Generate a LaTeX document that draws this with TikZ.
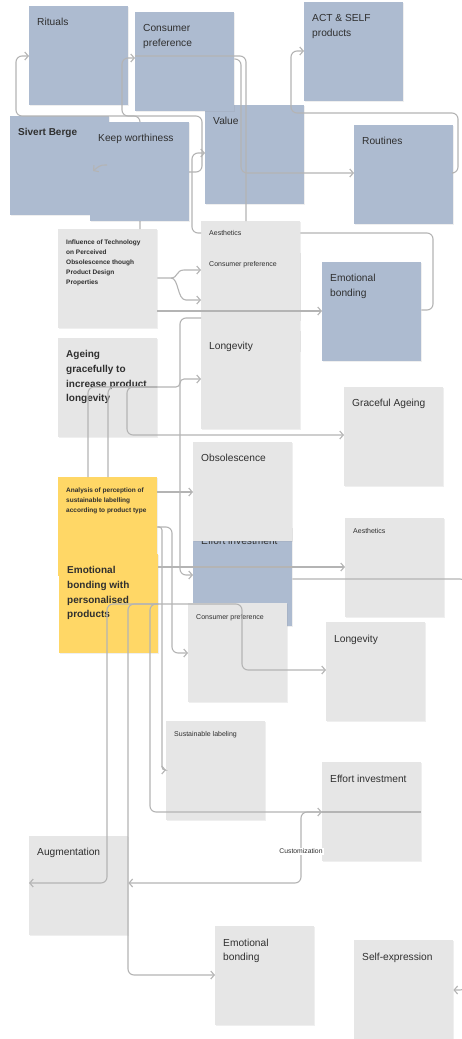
\documentclass[tikz,border=0pt]{standalone}
\usepackage{fontspec}
\setmainfont{Liberation Sans}
\usetikzlibrary{arrows.meta,shadows}

\definecolor{cardblue}{HTML}{ADBBD0}
\definecolor{cardgray}{HTML}{E6E6E6}
\definecolor{cardyellow}{HTML}{FFD766}
\definecolor{wirecol}{HTML}{B4B4B4}
\definecolor{ink}{HTML}{2F2F2F}

\tikzset{
  card/.style={rectangle, anchor=north west, minimum width=99pt, minimum height=99pt,
    inner sep=0pt, draw=none,
    drop shadow={shadow xshift=0.4pt, shadow yshift=-0.9pt, opacity=0.12}},
  bluecard/.style={card, fill=cardblue},
  graycard/.style={card, fill=cardgray},
  yellowcard/.style={card, fill=cardyellow},
  cardtext/.style={anchor=north west, inner sep=0pt, align=left, text=ink,
    font=\fontsize{10.2}{14.7}\selectfont},
  boldtext/.style={cardtext, font=\bfseries\fontsize{10}{14.7}\selectfont},
  smalltext/.style={cardtext, font=\fontsize{7}{10}\selectfont},
  smallbold/.style={cardtext, font=\bfseries\fontsize{6.5}{10}\selectfont},
  wire/.style={draw=wirecol, line width=1.1pt, rounded corners=6pt},
  arrowed/.style={-{Straight Barb[length=3.5pt,width=8pt]}},
  edgelabel/.style={fill=white, inner sep=1pt, text=ink,
    font=\fontsize{6.8}{8}\selectfont},
}

\begin{document}
\begin{tikzpicture}[x=1pt, y=-1pt]
\useasboundingbox (0,0) rectangle (461,1039);
\fill[white] (0,0) rectangle (461,1039);

% ---------- cards ----------
\node[bluecard] (rit) at (29,6) {};
\node[cardtext] (ritT) at ([shift={(8pt,-12.4pt)}]rit.north west) {Rituals};

\node[bluecard] (act) at (304,2) {};
\node[cardtext] (actT) at ([shift={(8pt,-12.4pt)}]act.north west) {ACT \& SELF\\products};

\node[bluecard] (val) at (205,105) {};
\node[cardtext] (valT) at ([shift={(8pt,-12.4pt)}]val.north west) {Value};

\node[bluecard] (cpb) at (135,12) {};
\node[cardtext] (cpbT) at ([shift={(8pt,-12.4pt)}]cpb.north west) {Consumer\\preference};

\node[bluecard] (rou) at (354,125) {};
\node[cardtext] (rouT) at ([shift={(8pt,-12.4pt)}]rou.north west) {Routines};

\node[bluecard] (siv) at (10,116) {};
\node[boldtext] (sivT) at ([shift={(8pt,-12.4pt)}]siv.north west) {Sivert Berge};

\node[graycard] (aes1) at (201,221) {};
\node[smalltext] (aes1T) at ([shift={(8pt,-9.5pt)}]aes1.north west) {Aesthetics};

\node[graycard] (cp1) at (201,252) {};
\node[smalltext] (cp1T) at ([shift={(8pt,-9.5pt)}]cp1.north west) {Consumer preference};

\node[graycard] (lon1) at (201,330) {};
\node[cardtext] (lon1T) at ([shift={(8pt,-12.4pt)}]lon1.north west) {Longevity};

\node[bluecard] (ebb) at (322,262) {};
\node[cardtext] (ebbT) at ([shift={(8pt,-12.4pt)}]ebb.north west) {Emotional\\bonding};

\node[graycard] (infl) at (58,229) {};
\node[smallbold] (inflT) at ([shift={(8pt,-10.6pt)}]infl.north west)
  {Influence of Technology\\on Perceived\\Obsolescence though\\Product Design\\Properties};

\node[graycard] (age) at (58,338) {};
\node[boldtext] (ageT) at ([shift={(8pt,-12.4pt)}]age.north west)
  {Ageing\\gracefully to\\increase product\\longevity};

\node[graycard] (gra) at (344,387) {};
\node[cardtext] (graT) at ([shift={(8pt,-12.4pt)}]gra.north west) {Graceful Ageing};

\node[bluecard] (effb) at (193,527) {};
\node[cardtext] (effbT) at ([shift={(8pt,-10.2pt)}]effb.north west) {Effort investment};

\node[graycard] (obs) at (193,442) {};
\node[cardtext] (obsT) at ([shift={(8pt,-12.4pt)}]obs.north west) {Obsolescence};

\node[graycard] (aes2) at (345,518) {};
\node[smalltext] (aes2T) at ([shift={(8pt,-10pt)}]aes2.north west) {Aesthetics};

\node[graycard] (cp2) at (188,603) {};
\node[smalltext] (cp2T) at ([shift={(8pt,-11.5pt)}]cp2.north west) {Consumer preference};

\node[graycard] (lon2) at (326,622) {};
\node[cardtext] (lon2T) at ([shift={(8pt,-12.4pt)}]lon2.north west) {Longevity};

\node[yellowcard] (ana) at (58,477) {};
\node[smallbold] (anaT) at ([shift={(8pt,-10.6pt)}]ana.north west)
  {Analysis of perception of\\sustainable labelling\\according to product type};

\node[yellowcard] (eby) at (59,554) {};
\node[boldtext] (ebyT) at ([shift={(8pt,-12.4pt)}]eby.north west)
  {Emotional\\bonding with\\personalised\\products};

\node[graycard] (sus) at (166,721) {};
\node[smalltext] (susT) at ([shift={(8pt,-10pt)}]sus.north west) {Sustainable labeling};

\node[graycard] (effg) at (322,762) {};
\node[cardtext] (effgT) at ([shift={(8pt,-12.4pt)}]effg.north west) {Effort investment};

\node[graycard] (aug) at (29,836) {};
\node[cardtext] (augT) at ([shift={(8pt,-11.4pt)}]aug.north west) {Augmentation};

\node[graycard] (ebg) at (215,926) {};
\node[cardtext] (ebgT) at ([shift={(8pt,-12.4pt)}]ebg.north west) {Emotional\\bonding};

\node[graycard] (self) at (354,940) {};
\node[cardtext] (selfT) at ([shift={(8pt,-12.4pt)}]self.north west) {Self-expression};

% ---------- connectors ----------
% upper cluster
\coordinate (kwEast) at (189,172);
\draw[wire, arrowed] (kwEast) -- (202,172) -- (202,116) -- (16,116)
  -- (16,56) -- (rit.west |- 0,56);
\draw[wire, arrowed] (infl.north -| 140,0) -- (140,116) -- (122,116) -- (122,58)
  -- (cpb.west |- 0,58);
\draw[wire] (cpb.west |- 0,56) -- (246,56) -- (aes1.north -| 246,0);
\draw[wire, arrowed] (cpb.east |- 0,59) -- (241,59) -- (241,173) -- (rou.west |- 0,173);
\draw[wire, arrowed] (rou.east |- 0,173) -- (458,173) -- (458,113) -- (291,113)
  -- (291,51) -- (act.west |- 0,51);
\draw[wire, arrowed] (aes1.west |- 0,233) -- (192,233) -- (192,153) -- (val.west |- 0,153);
\draw[wire] (aes1.east |- 0,233) -- (433,233) -- (433,310) -- (ebb.east |- 0,310);

% influence card
\draw[wire, arrowed, rounded corners=0pt] (infl.east |- 0,278) -- (171,278)
  .. controls (178,278) and (176,270) .. (184,270) -- (cp1.west |- 0,270);
\draw[wire, arrowed, rounded corners=0pt] (171,278)
  .. controls (179,278) and (177,300) .. (186,300) -- (cp1.west |- 0,300);
\draw[wire, arrowed] (infl.east |- 0,311) -- (ebb.west |- 0,311);

% longevity column and ageing card
\draw[wire, arrowed] (cp1.west |- 0,318) -- (180,318) -- (180,575) -- (effb.west |- 0,575);
\draw[wire, arrowed, rounded corners=4pt] (age.east |- 0,387) -- (180,387) -- (180,379)
  -- (lon1.west |- 0,379);
\draw[wire] (ana.north -| 88,0) -- (88,387) -- (age.east |- 0,387);
\draw[wire] (ana.north -| 108,0) -- (108,387) -- (age.east |- 0,387);
\draw[wire, arrowed] (age.east |- 0,387) -- (127,387) -- (127,435) -- (gra.west |- 0,435);

% analysis card
\draw[wire, arrowed] (ana.east |- 0,492) -- (obs.west |- 0,492);
\draw[wire, arrowed] (ana.east |- 0,527) -- (172,527) -- (172,653) -- (cp2.west |- 0,653);
\draw[wire, arrowed, rounded corners=3pt] (ana.east |- 0,527) -- (162,527) -- (162,770)
  -- (sus.west |- 0,770);

% emotional bonding (yellow) card
\draw[wire, arrowed] (eby.east |- 0,567) -- (aes2.west |- 0,567);
\coordinate (ebyBus) at (eby.east |- 0,604);
\draw[wire, arrowed] (ebyBus) -- (242,604) -- (242,670) -- (lon2.west |- 0,670);
\draw[wire, arrowed] (ebyBus) -- (107,604) -- (107,883) -- (aug.west |- 0,883);
\draw[wire, arrowed] (ebyBus) -- (128,604) -- (128,975) -- (ebg.west |- 0,975);
\draw[wire, arrowed] (ebyBus) -- (150,604) -- (150,812) -- (effg.west |- 0,812);

% effort investment
\draw[wire, arrowed] (effb.east |- 0,579) -- (466,579) -- (466,990) -- (self.east |- 0,990);
\draw[wire] (effg.west |- 0,812) -- (effg.east |- 0,812);
\draw[wire, arrowed] (effg.west |- 0,812) -- (301,812) -- (301,883) -- (aug.east |- 0,883);
\node[edgelabel] (custL) at (301,851) {Customization};

% ---------- card drawn above the wires ----------
\node[bluecard] (kw) at (90,122) {};
\node[cardtext] (kwT) at ([shift={(8pt,-12.4pt)}]kw.north west) {Keep worthiness};

\coordinate (kwTail) at (107,165);
\coordinate (kwTip) at (93,171);
\draw[draw=wirecol, line width=1.1pt, arrowed] (kwTail) .. controls (100,164) and (97,168) .. (kwTip);
\end{tikzpicture}
\end{document}
